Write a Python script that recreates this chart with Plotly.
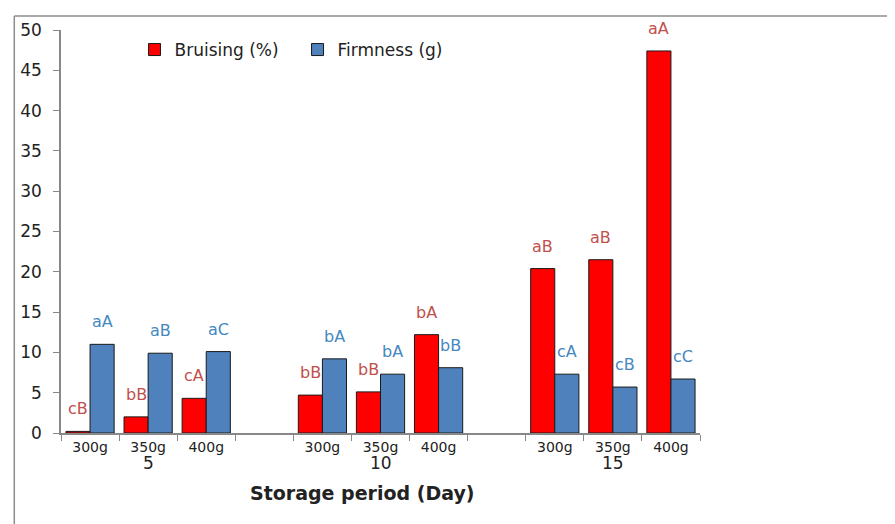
import plotly.graph_objects as go

# Data
categories = ["d5-300g", "d5-350g", "d5-400g", "gap1",
              "d10-300g", "d10-350g", "d10-400g", "gap2",
              "d15-300g", "d15-350g", "d15-400g"]
tick_labels = ["300g", "350g", "400g", "",
               "300g", "350g", "400g", "",
               "300g", "350g", "400g"]
bruising = [0.2, 2.0, 4.3, None, 4.7, 5.1, 12.2, None, 20.4, 21.5, 47.4]
firmness = [11.0, 9.9, 10.1, None, 9.2, 7.3, 8.1, None, 7.3, 5.7, 6.7]
bruising_letters = ["cB", "bB", "cA", "", "bB", "bB", "bA", "", "aB", "aB", "aA"]
firmness_letters = ["aA", "aB", "aC", "", "bA", "bA", "bB", "", "cA", "cB", "cC"]
day_labels = ["5", "10", "15"]
day_centers = ["d5-350g", "d10-350g", "d15-350g"]

FONT = "DejaVu Sans"
RED = "#FF0000"
BLUE = "#4F81BD"
RED_TXT = "#C0504D"
BLUE_TXT = "#4588C0"

# page body has an 8px margin; plot area spans x 57..700, y 29..433 on screen
L, R, T, B = 49, 195, 21, 91
PW, PH = 643, 404
W, H = L + PW + R, T + PH + B

fig = go.Figure()
fig.add_trace(go.Bar(x=categories, y=bruising, name="Bruising (%)",
                     marker=dict(color=RED, line=dict(color="#1a1a1a", width=1))))
fig.add_trace(go.Bar(x=categories, y=firmness, name="Firmness (g)",
                     marker=dict(color=BLUE, line=dict(color="#1a1a1a", width=1))))

annotations = []
for c, v, t in zip(categories, bruising, bruising_letters):
    if v is None:
        continue
    annotations.append(dict(x=c, y=v, xref="x", yref="y", text=t, showarrow=False,
                            xshift=-12, yshift=11, yanchor="bottom",
                            font=dict(family=FONT, size=16, color=RED_TXT)))
for c, v, t in zip(categories, firmness, firmness_letters):
    if v is None:
        continue
    annotations.append(dict(x=c, y=v, xref="x", yref="y", text=t, showarrow=False,
                            xshift=12, yshift=11, yanchor="bottom",
                            font=dict(family=FONT, size=16, color=BLUE_TXT)))
for c, d in zip(day_centers, day_labels):
    annotations.append(dict(x=c, y=-30 / PH, xref="x", yref="paper", text=d, showarrow=False,
                            yanchor="middle", font=dict(family=FONT, size=17, color="#222222")))
annotations.append(dict(x=(360 - 57) / PW, y=-60 / PH, xref="paper", yref="paper",
                        text="<b>Storage period (Day)</b>", showarrow=False,
                        yanchor="middle", font=dict(family=FONT, size=19, color="#222222")))

frame_x = (10 - 57) / PW
frame_y = (433 - 15) / PH

fig.update_layout(
    width=W, height=H,
    margin=dict(l=L, r=R, t=T, b=B),
    paper_bgcolor="white", plot_bgcolor="white",
    barmode="group", bargap=0.17, bargroupgap=0,
    showlegend=True,
    legend=dict(orientation="h", x=(131 - 57) / PW, y=(433 - 31) / PH,
                xanchor="left", yanchor="top",
                font=dict(family=FONT, size=17, color="#222222"),
                bgcolor="rgba(0,0,0,0)", entrywidth=118, entrywidthmode="pixels",
                traceorder="normal"),
    annotations=annotations,
    shapes=[
        dict(type="line", xref="paper", yref="paper",
             x0=frame_x, x1=(900 - 57) / PW, y0=frame_y, y1=frame_y,
             line=dict(color="#8c8c8c", width=1.5)),
        dict(type="line", xref="paper", yref="paper",
             x0=frame_x, x1=frame_x, y0=frame_y, y1=(433 - 540) / PH,
             line=dict(color="#8c8c8c", width=1.5)),
    ],
)
fig.update_xaxes(type="category", categoryorder="array", categoryarray=categories,
                 range=[-0.5, 10.5], tickmode="array", tickvals=categories, ticktext=tick_labels,
                 tickson="boundaries", ticks="outside", ticklen=6, tickcolor="#888888",
                 showline=True, linecolor="#888888", linewidth=1.5, showgrid=False,
                 tickfont=dict(family=FONT, size=14, color="#222222"), zeroline=False)
fig.update_yaxes(range=[0, 50], tickmode="linear", tick0=0, dtick=5,
                 ticks="outside", ticklen=6, tickcolor="#888888", ticklabelstandoff=8,
                 showline=True, linecolor="#888888", linewidth=1.5, showgrid=False,
                 zeroline=False, tickfont=dict(family=FONT, size=17, color="#222222"))

fig.write_html("out.html")
